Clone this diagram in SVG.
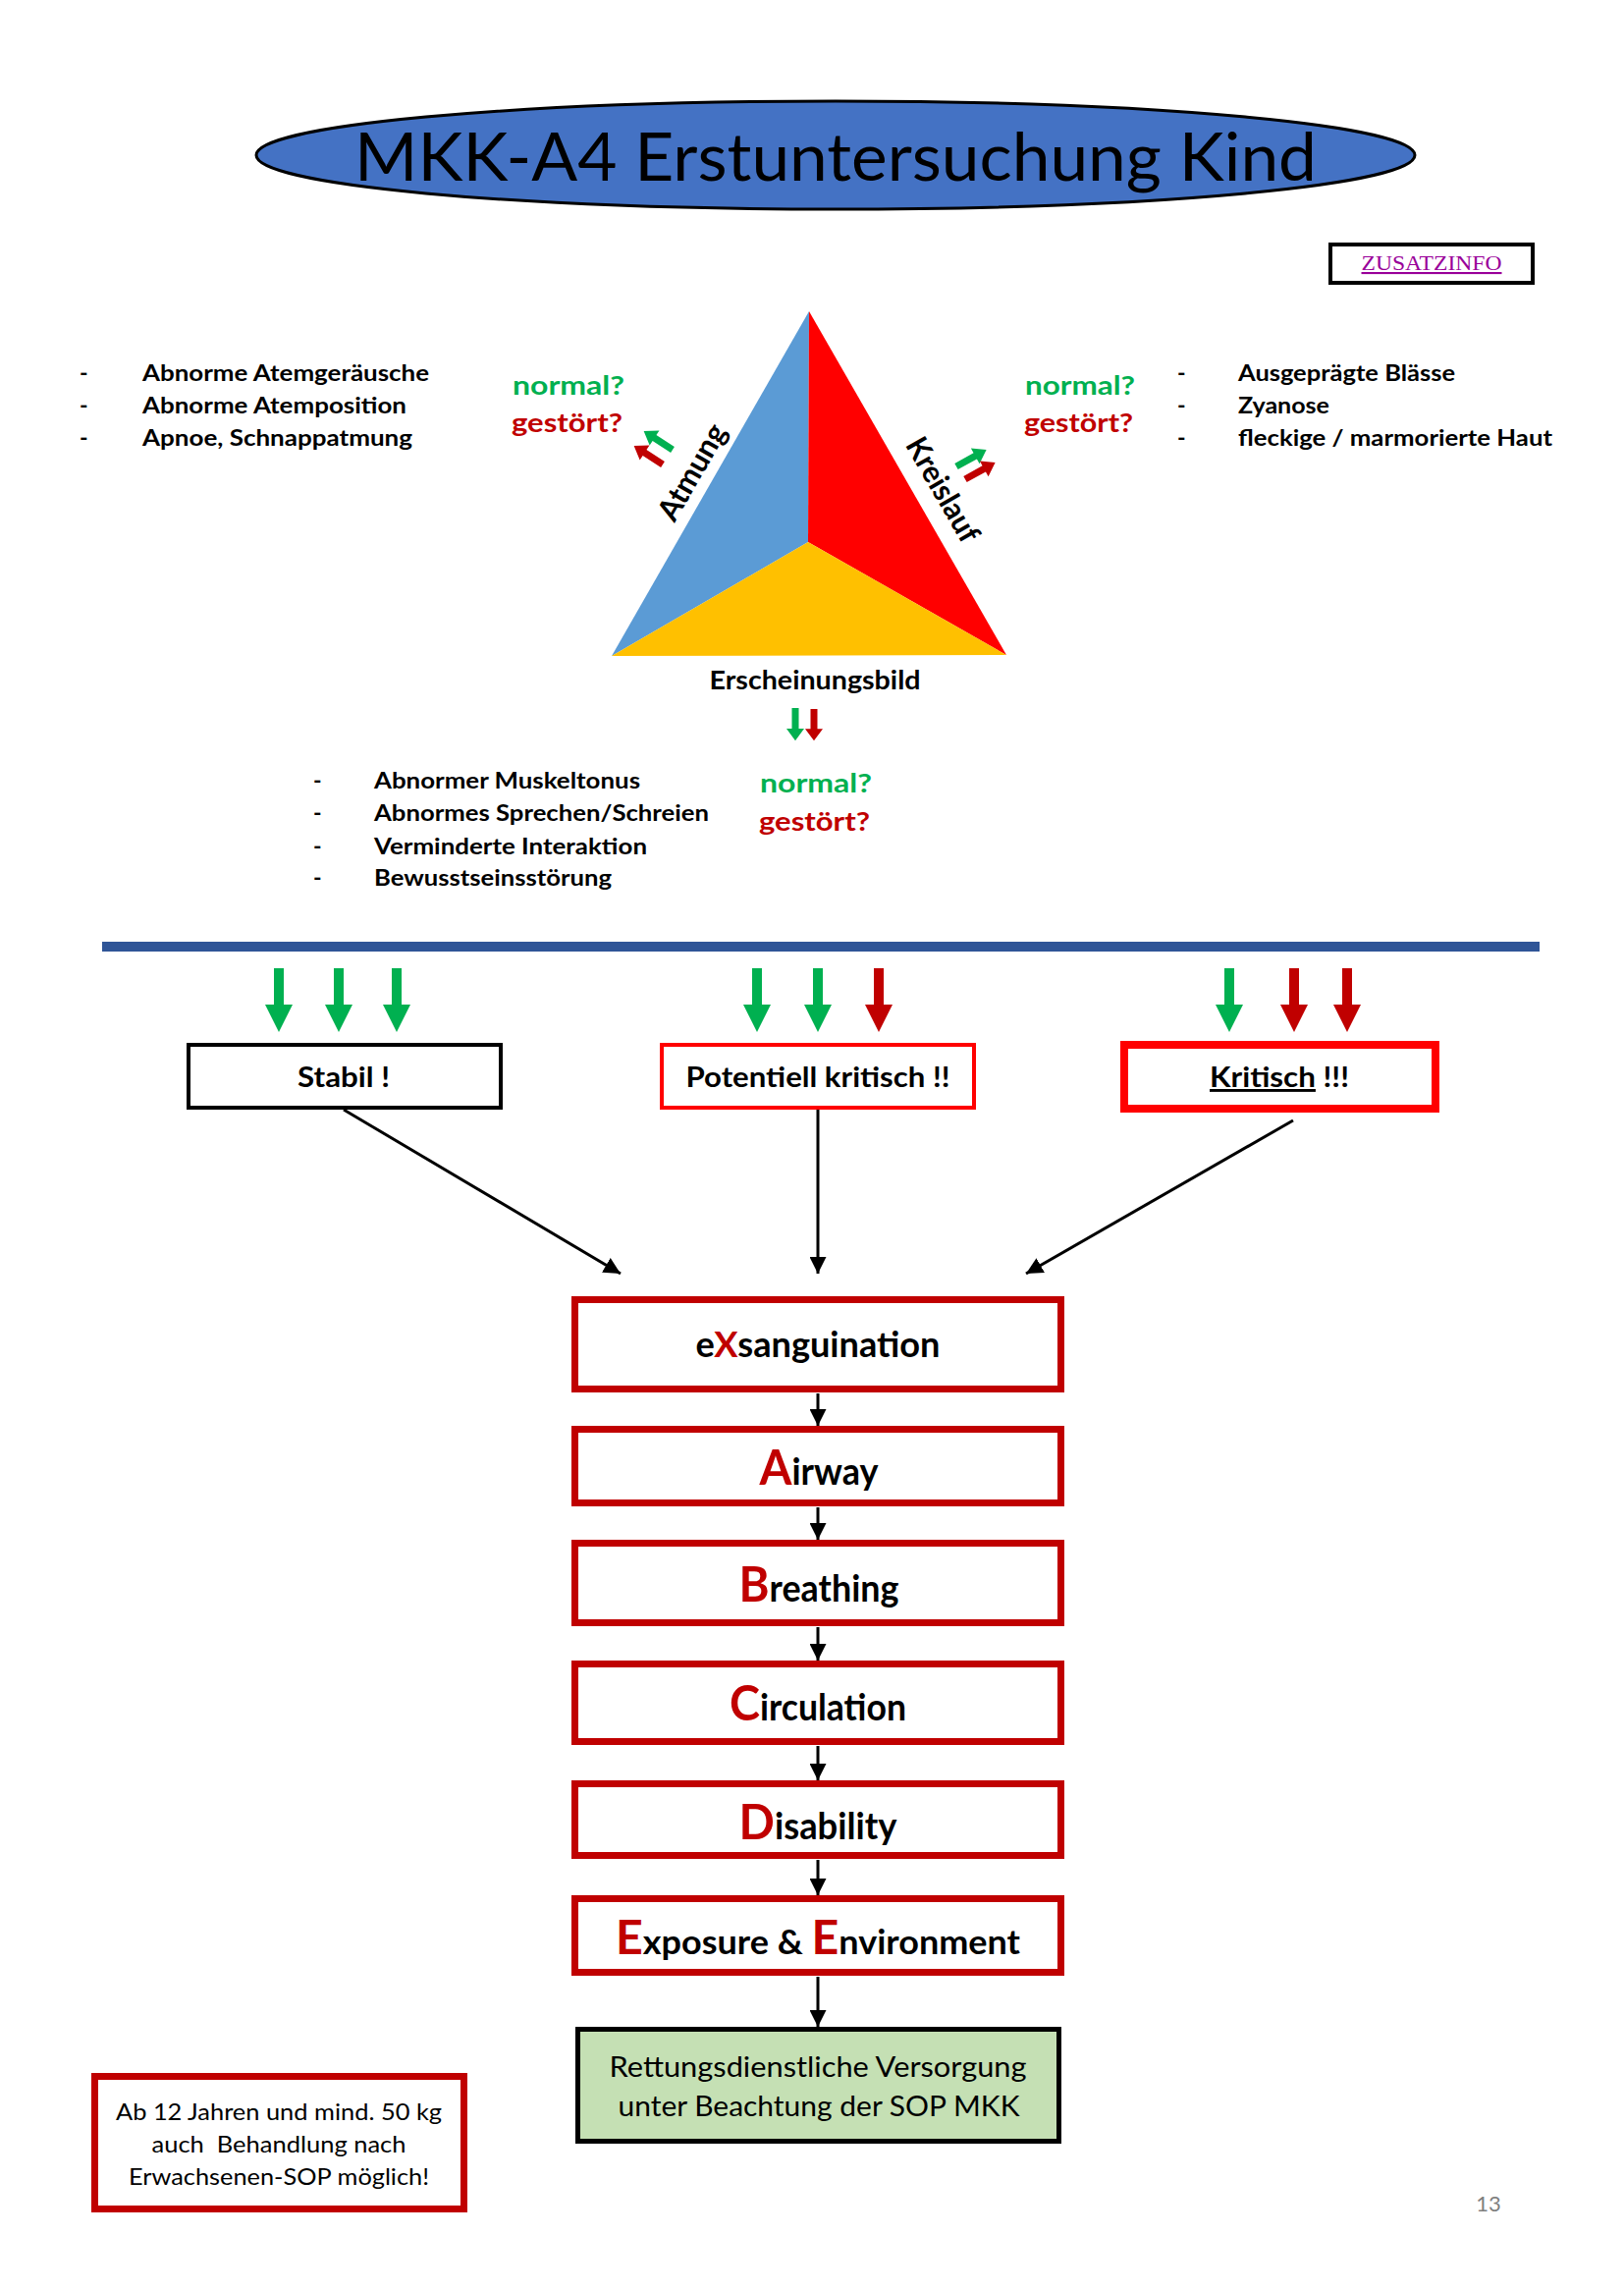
<svg xmlns="http://www.w3.org/2000/svg" width="1654" height="2331" viewBox="0 0 1654 2331">
<style>
text{font-family:Lato,"Open Sans","Liberation Sans",sans-serif;fill:#000}
.b{font-weight:bold}
.li{font-weight:bold;font-size:23px}
.g{fill:#00B050;font-weight:bold;font-size:27px}
.r{fill:#C00000;font-weight:bold;font-size:27px}
.abc{fill:#fff;stroke:#C00000;stroke-width:7}
.big{fill:#C00000;font-size:50px}
.rest{font-size:38px}
.con{stroke:#000;stroke-width:3;fill:none}
.sg{fill:#00B050}
.sr{fill:#C00000}
</style>
<defs>
<marker id="ah" markerUnits="userSpaceOnUse" viewBox="0 0 17 17" refX="17" refY="8.5" markerWidth="17" markerHeight="17" orient="auto">
<path d="M0,0 L17,8.5 L0,17 z" fill="#000"/>
</marker>
<polygon id="sa" points="0,-3.5 22,-3.5 22,-9 35,0 22,9 22,3.5 0,3.5"/>
<polygon id="ba" points="-5,0 5,0 5,37 14,37 0,65 -14,37 -5,37"/>
</defs>
<rect width="1654" height="2331" fill="#fff"/>

<g id="title">
<ellipse cx="851" cy="158" rx="590" ry="55" fill="#4472C4" stroke="#000" stroke-width="3"/>
<text x="851" y="184" font-size="67" text-anchor="middle" textLength="980" lengthAdjust="spacingAndGlyphs">MKK-A4 Erstuntersuchung Kind</text>
</g>

<g id="zusatzinfo">
<rect x="1355" y="249" width="206" height="39" fill="#fff" stroke="#000" stroke-width="4"/>
<text x="1458" y="275" font-size="21" style="fill:#990099;font-family:'Liberation Serif',serif" text-anchor="middle" text-decoration="underline" textLength="143" lengthAdjust="spacingAndGlyphs">ZUSATZINFO</text>
</g>

<g id="list-atmung">
<text x="81" y="388" class="li">-</text>
<text x="81" y="421" class="li">-</text>
<text x="81" y="454" class="li">-</text>
<text x="145" y="388" class="li" textLength="292" lengthAdjust="spacingAndGlyphs">Abnorme Atemgeräusche</text>
<text x="145" y="421" class="li" textLength="269" lengthAdjust="spacingAndGlyphs">Abnorme Atemposition</text>
<text x="145" y="454" class="li" textLength="275" lengthAdjust="spacingAndGlyphs">Apnoe, Schnappatmung</text>
<text x="522" y="402" class="g" textLength="114" lengthAdjust="spacingAndGlyphs">normal?</text>
<text x="521" y="440" class="r" textLength="113" lengthAdjust="spacingAndGlyphs">gestört?</text>
</g>

<g id="list-kreislauf">
<text x="1199" y="388" class="li">-</text>
<text x="1199" y="421" class="li">-</text>
<text x="1199" y="454" class="li">-</text>
<text x="1261" y="388" class="li" textLength="221" lengthAdjust="spacingAndGlyphs">Ausgeprägte Blässe</text>
<text x="1261" y="421" class="li" textLength="93" lengthAdjust="spacingAndGlyphs">Zyanose</text>
<text x="1261" y="454" class="li" textLength="320" lengthAdjust="spacingAndGlyphs">fleckige / marmorierte Haut</text>
<text x="1044" y="402" class="g" textLength="112" lengthAdjust="spacingAndGlyphs">normal?</text>
<text x="1043" y="440" class="r" textLength="111" lengthAdjust="spacingAndGlyphs">gestört?</text>
</g>

<g id="triangle">
<polygon points="824,317 623,668 823,552" fill="#5B9BD5"/>
<polygon points="824,317 823,552 1025,667" fill="#FF0000"/>
<polygon points="623,668 823,552 1025,667" fill="#FFC000"/>
<text x="714" y="486" class="b" font-size="31" text-anchor="middle" transform="rotate(-60 714 486)" textLength="108" lengthAdjust="spacingAndGlyphs">Atmung</text>
<text x="951" y="504" class="b" font-size="31" text-anchor="middle" transform="rotate(60 951 504)" textLength="118" lengthAdjust="spacingAndGlyphs">Kreislauf</text>
<text x="830" y="702" class="b" font-size="26" text-anchor="middle" textLength="215" lengthAdjust="spacingAndGlyphs">Erscheinungsbild</text>
<use href="#sa" class="sg" transform="translate(685,458) rotate(213)"/>
<use href="#sa" class="sr" transform="translate(675,473) rotate(213)"/>
<use href="#sa" class="sg" transform="translate(974,475) rotate(-29)"/>
<use href="#sa" class="sr" transform="translate(983,488) rotate(-29)"/>
<use href="#sa" class="sg" transform="translate(810,721) rotate(90) scale(0.95 1)"/>
<use href="#sa" class="sr" transform="translate(829,722) rotate(90) scale(0.92 1)"/>
</g>

<g id="list-erscheinung">
<text x="319" y="803" class="li">-</text>
<text x="319" y="836" class="li">-</text>
<text x="319" y="870" class="li">-</text>
<text x="319" y="902" class="li">-</text>
<text x="381" y="803" class="li" textLength="271" lengthAdjust="spacingAndGlyphs">Abnormer Muskeltonus</text>
<text x="381" y="836" class="li" textLength="341" lengthAdjust="spacingAndGlyphs">Abnormes Sprechen/Schreien</text>
<text x="381" y="870" class="li" textLength="278" lengthAdjust="spacingAndGlyphs">Verminderte Interaktion</text>
<text x="381" y="902" class="li" textLength="242" lengthAdjust="spacingAndGlyphs">Bewusstseinsstörung</text>
<text x="774" y="807" class="g" textLength="114" lengthAdjust="spacingAndGlyphs">normal?</text>
<text x="773" y="846" class="r" textLength="113" lengthAdjust="spacingAndGlyphs">gestört?</text>
</g>

<rect id="divider" x="104" y="959" width="1464" height="10" fill="#2F5597"/>

<g id="status-arrows">
<use href="#ba" class="sg" x="284" y="986"/>
<use href="#ba" class="sg" x="345" y="986"/>
<use href="#ba" class="sg" x="404" y="986"/>
<use href="#ba" class="sg" x="771" y="986"/>
<use href="#ba" class="sg" x="833" y="986"/>
<use href="#ba" class="sr" x="895" y="986"/>
<use href="#ba" class="sg" x="1252" y="986"/>
<use href="#ba" class="sr" x="1318" y="986"/>
<use href="#ba" class="sr" x="1372" y="986"/>
</g>

<g id="stabil">
<rect x="192" y="1064" width="318" height="64" fill="#fff" stroke="#000" stroke-width="4"/>
<text x="350" y="1107" class="b" font-size="29" text-anchor="middle" textLength="94" lengthAdjust="spacingAndGlyphs">Stabil !</text>
</g>
<g id="potentiell">
<rect x="674" y="1064" width="318" height="64" fill="#fff" stroke="#FF0000" stroke-width="4"/>
<text x="833" y="1107" class="b" font-size="29" text-anchor="middle" textLength="269" lengthAdjust="spacingAndGlyphs">Potentiell kritisch !!</text>
</g>
<g id="kritisch">
<rect x="1145" y="1064" width="317" height="65" fill="#fff" stroke="#FF0000" stroke-width="8"/>
<text x="1303" y="1107" class="b" font-size="29" text-anchor="middle" textLength="142" lengthAdjust="spacingAndGlyphs"><tspan text-decoration="underline">Kritisch</tspan> !!!</text>
</g>

<g id="connectors">
<line class="con" x1="350" y1="1130" x2="632" y2="1297" marker-end="url(#ah)"/>
<line class="con" x1="833" y1="1130" x2="833" y2="1297" marker-end="url(#ah)"/>
<line class="con" x1="1317" y1="1141" x2="1045" y2="1297" marker-end="url(#ah)"/>
<line class="con" x1="833" y1="1419" x2="833" y2="1452" marker-end="url(#ah)"/>
<line class="con" x1="833" y1="1535" x2="833" y2="1568" marker-end="url(#ah)"/>
<line class="con" x1="833" y1="1657" x2="833" y2="1691" marker-end="url(#ah)"/>
<line class="con" x1="833" y1="1778" x2="833" y2="1813" marker-end="url(#ah)"/>
<line class="con" x1="833" y1="1894" x2="833" y2="1930" marker-end="url(#ah)"/>
<line class="con" x1="833" y1="2013" x2="833" y2="2064" marker-end="url(#ah)"/>
</g>

<g id="x-exsanguination">
<rect class="abc" x="585.5" y="1323.5" width="495" height="91"/>
<text x="833" y="1382" class="b" font-size="36" text-anchor="middle" textLength="249" lengthAdjust="spacingAndGlyphs">e<tspan fill="#C00000">X</tspan>sanguination</text>
</g>
<g id="a-airway">
<rect class="abc" x="585.5" y="1455.5" width="495" height="75"/>
<text x="834" y="1512" class="b rest" text-anchor="middle" textLength="121" lengthAdjust="spacingAndGlyphs"><tspan class="big">A</tspan>irway</text>
</g>
<g id="b-breathing">
<rect class="abc" x="585.5" y="1571.5" width="495" height="81"/>
<text x="834" y="1631" class="b rest" text-anchor="middle" textLength="163" lengthAdjust="spacingAndGlyphs"><tspan class="big">B</tspan>reathing</text>
</g>
<g id="c-circulation">
<rect class="abc" x="585.5" y="1694.5" width="495" height="79"/>
<text x="833" y="1752" class="b rest" text-anchor="middle" textLength="180" lengthAdjust="spacingAndGlyphs"><tspan class="big">C</tspan>irculation</text>
</g>
<g id="d-disability">
<rect class="abc" x="585.5" y="1816.5" width="495" height="73"/>
<text x="833" y="1873" class="b rest" text-anchor="middle" textLength="161" lengthAdjust="spacingAndGlyphs"><tspan class="big">D</tspan>isability</text>
</g>
<g id="e-exposure">
<rect class="abc" x="585.5" y="1933.5" width="495" height="75"/>
<text x="833" y="1990" class="b" font-size="35" text-anchor="middle" textLength="412" lengthAdjust="spacingAndGlyphs"><tspan fill="#C00000" font-size="47">E</tspan>xposure &amp; <tspan fill="#C00000" font-size="47">E</tspan>nvironment</text>
</g>

<g id="versorgung">
<rect x="588.5" y="2066.5" width="490" height="114" fill="#C5E0B4" stroke="#000" stroke-width="5"/>
<text x="833" y="2115" font-size="28" text-anchor="middle" textLength="425" lengthAdjust="spacingAndGlyphs">Rettungsdienstliche Versorgung</text>
<text x="834" y="2155" font-size="28" text-anchor="middle" textLength="409" lengthAdjust="spacingAndGlyphs">unter Beachtung der SOP MKK</text>
</g>

<g id="hinweis">
<rect x="96.5" y="2114.5" width="376" height="135" fill="#fff" stroke="#C00000" stroke-width="7"/>
<text x="284" y="2159" font-size="23" text-anchor="middle" textLength="332" lengthAdjust="spacingAndGlyphs">Ab 12 Jahren und mind. 50 kg</text>
<text x="284" y="2192" font-size="23" text-anchor="middle" textLength="259" lengthAdjust="spacingAndGlyphs" style="white-space:pre">auch  Behandlung nach</text>
<text x="284" y="2225" font-size="23" text-anchor="middle" textLength="306" lengthAdjust="spacingAndGlyphs">Erwachsenen-SOP möglich!</text>
</g>

<text id="page" x="1516" y="2252" font-size="22" text-anchor="middle" style="fill:#7F7F7F">13</text>
</svg>
